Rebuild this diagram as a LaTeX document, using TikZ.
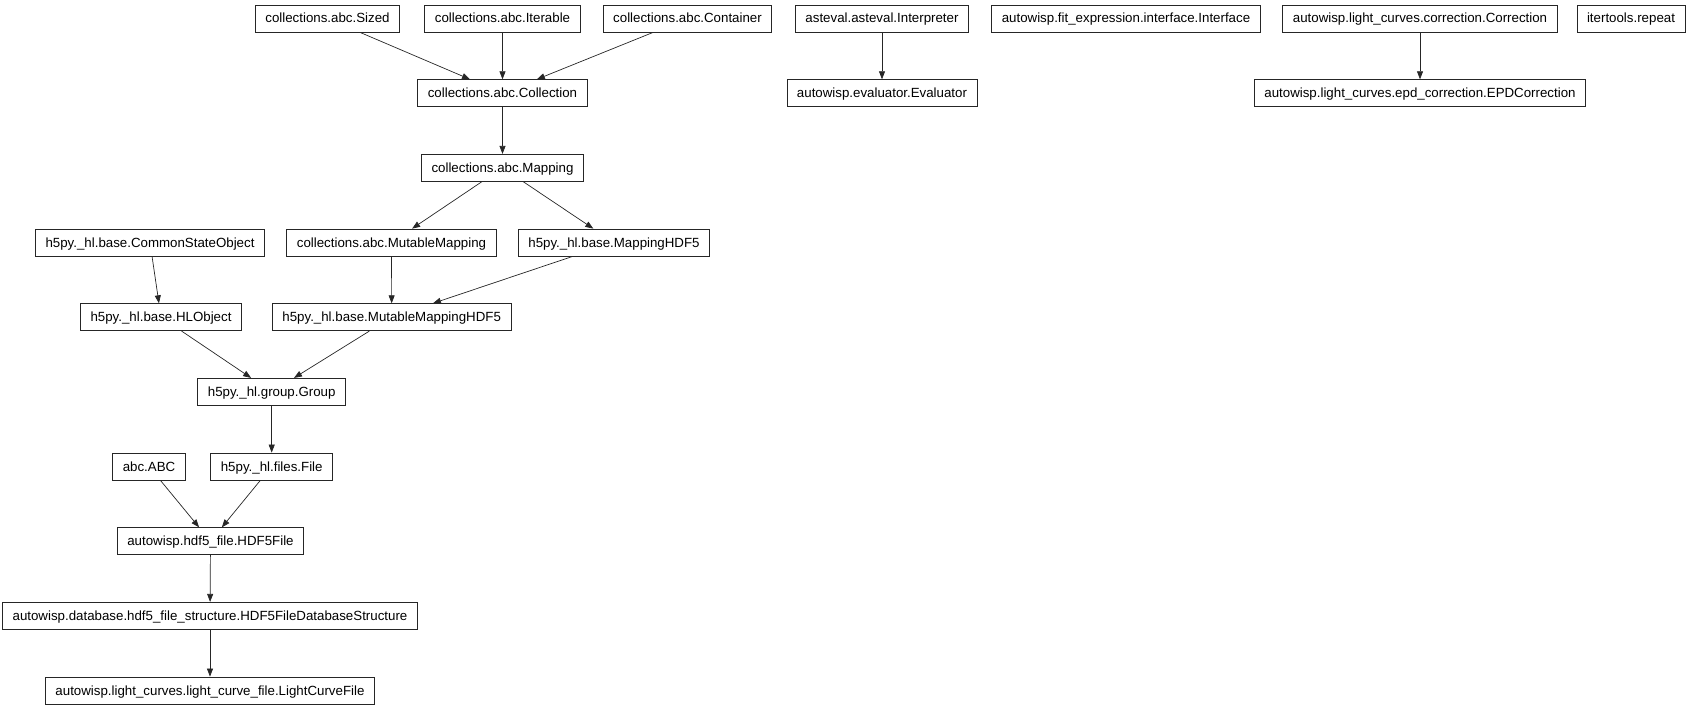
\documentclass[tikz,border=0pt]{standalone}
\usepackage{fontspec}
\setmainfont{Liberation Sans}
\usetikzlibrary{arrows.meta}
\begin{document}
\begin{tikzpicture}[x=1pt,y=-1pt,
  cls/.style={draw=black!85, line width=0.75pt, rectangle, inner xsep=10pt, inner ysep=0pt,
    minimum height=27pt, font=\fontsize{13.3}{16}\selectfont, text height=11pt, text depth=2pt},
  inh/.style={draw=black!85, line width=0.7pt, -{Triangle[length=8pt,width=6pt]}}]
\useasboundingbox (0,0) rectangle (1692,709);
% row 1
\node[cls] (sized) at (327.5,18.5) {collections.abc.Sized};
\node[cls] (iter) at (502.5,18.5) {collections.abc.Iterable};
\node[cls] (cont) at (687.5,18.5) {collections.abc.Container};
\node[cls] (interp) at (882,18.5) {asteval.asteval.Interpreter};
\node[cls] (iface) at (1126,18.5) {autowisp.fit\_expression.interface.Interface};
\node[cls] (corr) at (1420,18.5) {autowisp.light\_curves.correction.Correction};
\node[cls] (rep) at (1631,18.5) {itertools.repeat};
% row 2
\node[cls] (coll) at (502.5,93.2) {collections.abc.Collection};
\node[cls] (eval) at (882,93.2) {autowisp.evaluator.Evaluator};
\node[cls] (epd) at (1420,93.2) {autowisp.light\_curves.epd\_correction.EPDCorrection};
% row 3
\node[cls] (map) at (502.5,167.8) {collections.abc.Mapping};
% row 4
\node[cls] (cso) at (150,242.5) {h5py.\_hl.base.CommonStateObject};
\node[cls] (mmap) at (391.5,242.5) {collections.abc.MutableMapping};
\node[cls] (maphdf) at (614,242.5) {h5py.\_hl.base.MappingHDF5};
% row 5
\node[cls] (hlo) at (161,317.2) {h5py.\_hl.base.HLObject};
\node[cls] (mmhdf) at (391.7,317.2) {h5py.\_hl.base.MutableMappingHDF5};
% row 6
\node[cls] (group) at (271.7,391.8) {h5py.\_hl.group.Group};
% row 7
\node[cls] (abc) at (149,466.5) {abc.ABC};
\node[cls] (file) at (271.7,466.5) {h5py.\_hl.files.File};
% row 8
\node[cls] (hdf) at (210.5,541.2) {autowisp.hdf5\_file.HDF5File};
% row 9
\node[cls] (dbs) at (210,615.8) {autowisp.database.hdf5\_file\_structure.HDF5FileDatabaseStructure};
% row 10
\node[cls] (lcf) at (210,690.5) {autowisp.light\_curves.light\_curve\_file.LightCurveFile};
% edges
\draw[inh] (sized) -- (coll);
\draw[inh] (iter) -- (coll);
\draw[inh] (cont) -- (coll);
\draw[inh] (interp) -- (eval);
\draw[inh] (corr) -- (epd);
\draw[inh] (coll) -- (map);
\draw[inh] (map) -- (mmap);
\draw[inh] (map) -- (maphdf);
\draw[inh] (cso) -- (hlo);
\draw[inh] (mmap) -- (mmhdf);
\draw[inh] (maphdf) -- (mmhdf);
\draw[inh] (hlo) -- (group);
\draw[inh] (mmhdf) -- (group);
\draw[inh] (group) -- (file);
\draw[inh] (abc) -- (hdf);
\draw[inh] (file) -- (hdf);
\draw[inh] (hdf) -- (dbs);
\draw[inh] (dbs) -- (lcf);
\end{tikzpicture}
\end{document}
